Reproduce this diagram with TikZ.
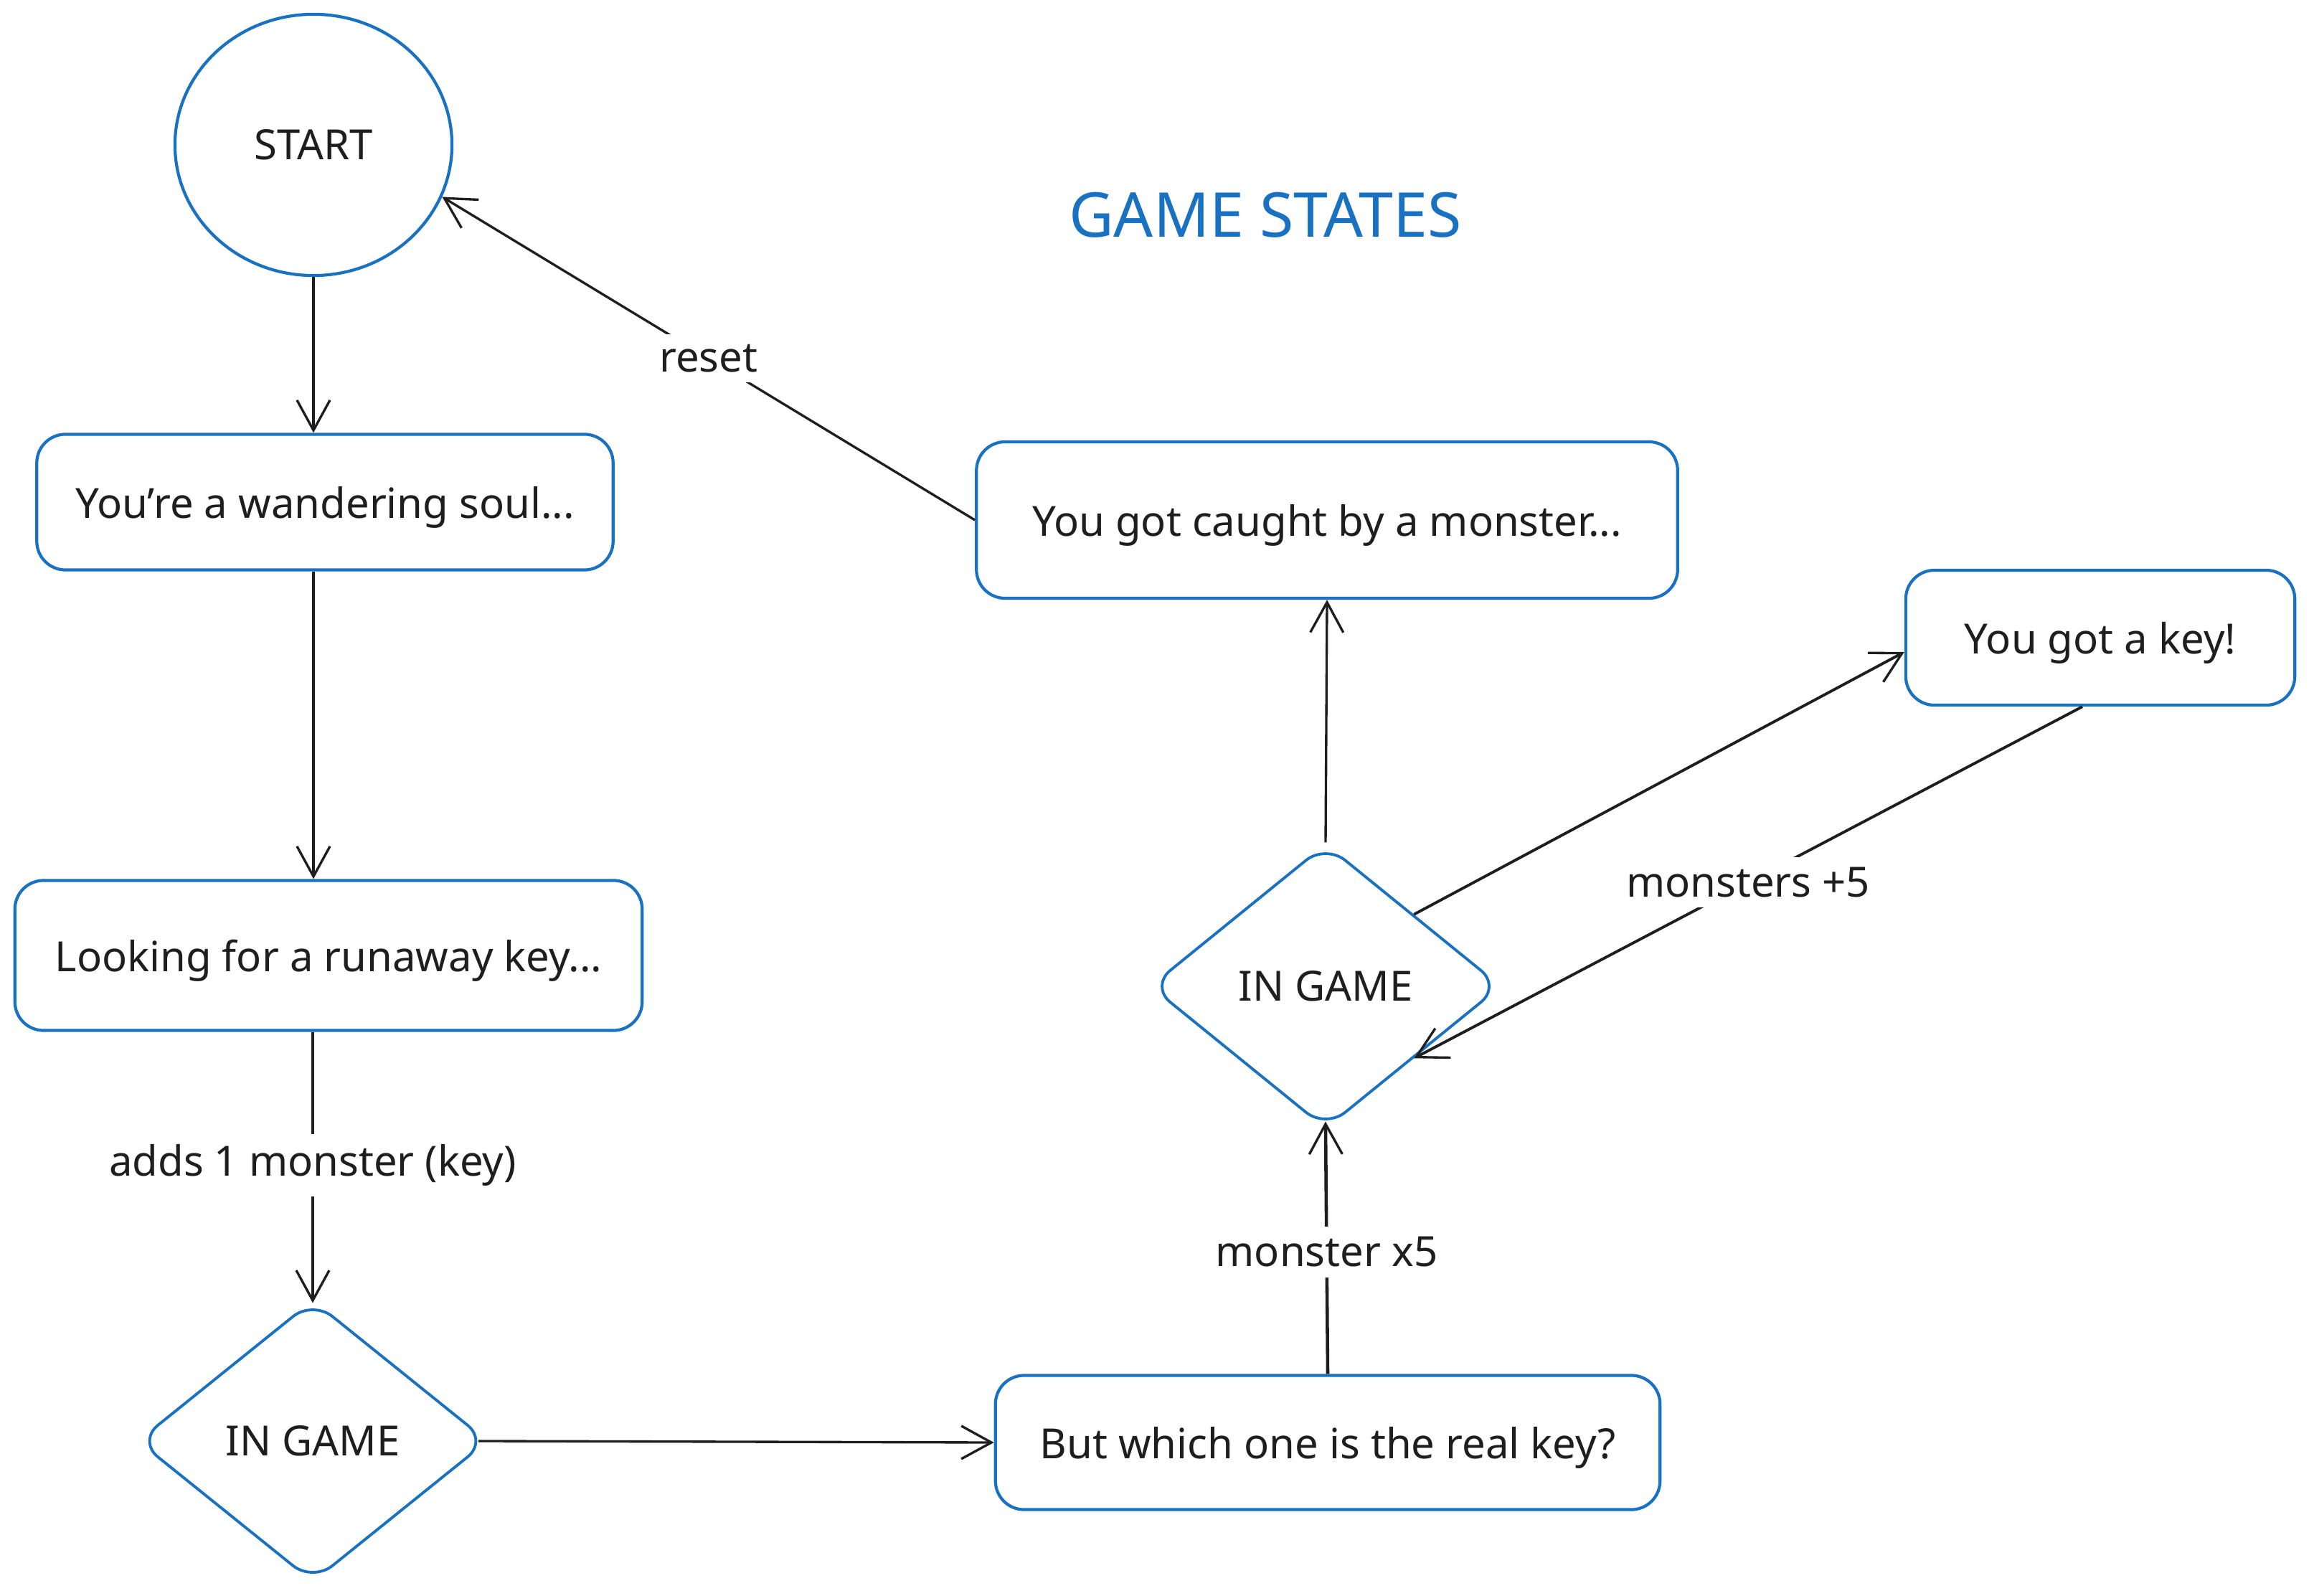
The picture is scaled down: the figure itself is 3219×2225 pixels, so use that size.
\documentclass[tikz,border=0pt]{standalone}
\usepackage{fontspec}
\setmainfont{Noto Sans}
\usetikzlibrary{shapes.geometric,arrows.meta}
\definecolor{exblue}{HTML}{1971C2}
\definecolor{exink}{HTML}{1E1E1E}
\begin{document}
\begin{tikzpicture}[x=0.01cm,y=-0.01cm,
  every node/.style={text=exink,font=\fontsize{16.5}{20}\selectfont},
  boxnode/.style={draw=exblue,line width=1.2pt,rounded corners=0.4cm,inner sep=0pt,text height=0.56cm,text depth=0.12cm},
  dianode/.style={diamond,draw=exblue,line width=1.1pt,rounded corners=0.35cm,inner sep=0pt},
  conn/.style={draw=exink,line width=0.95pt,-{Straight Barb[length=0.42cm,width=0.46cm,line width=0.95pt]}},
  lbl/.style={fill=white,inner sep=4pt}]
\useasboundingbox (0,0) rectangle (3219,2225);

\node[ellipse,draw=exblue,line width=1.2pt,minimum width=3.86cm,minimum height=3.64cm,inner sep=0pt] (start) at (437,202) {START};

\node[boxnode,minimum width=8.03cm,minimum height=1.89cm] (b1) at (453,700) {You're a wandering soul...};
\node[boxnode,minimum width=8.74cm,minimum height=2.09cm] (b2) at (458,1332) {Looking for a runaway key...};
\node[dianode,minimum width=4.88cm,minimum height=3.93cm] (d1) at (436,2009) {IN GAME};
\node[boxnode,minimum width=9.26cm,minimum height=1.87cm] (but) at (1851,2011) {But which one is the real key?};
\node[dianode,minimum width=4.89cm,minimum height=3.97cm] (d2) at (1848,1375) {IN GAME};
\node[boxnode,minimum width=9.77cm,minimum height=2.18cm] (caught) at (1850,725) {You got caught by a monster...};
\node[boxnode,minimum width=5.42cm,minimum height=1.88cm] (key) at (2928,889) {You got a key!};

\node[text=exblue,font=\fontsize{24.5}{29}\selectfont] (title) at (1764,300) {GAME STATES};

\draw[conn] (start.south) -- (start.south |- b1.north);
\draw[conn] (start.south |- b1.south) -- (start.south |- b2.north);
\draw[conn,shorten >=-0.06cm] (d1.north |- b2.south) -- node[lbl] {adds 1 monster (key)} (d1.north);
\draw[conn,shorten <=-0.15cm] (d1.east) -- (but.west);
\draw[conn,line width=1.3pt,shorten >=-0.12cm] (but.north) -- node[lbl] {monster x5} (d2.south);
\draw[conn] (d2.north) -- (caught.south);
\draw[conn] (caught.west) -- node[lbl] {reset} (start.-22);
\draw[conn,line width=1.1pt] (d2.north east) -- ([yshift=-0.2cm]key.west);
\draw[conn,line width=1.1pt] ([xshift=-0.25cm]key.south) -- node[lbl] {monsters +5} (d2.south east);
\end{tikzpicture}
\end{document}
